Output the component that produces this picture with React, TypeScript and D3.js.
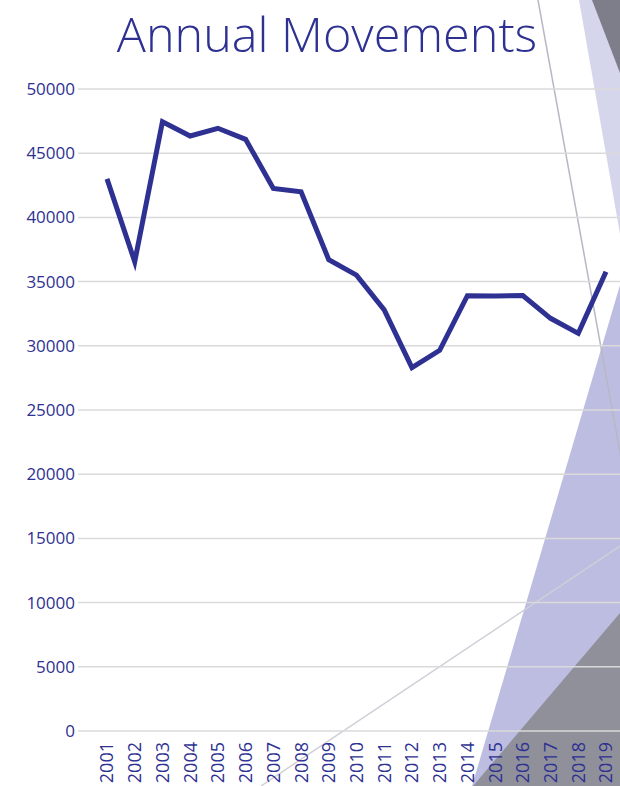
import React from 'react';
import * as d3 from 'd3';

const width = 620;
const height = 786;
const margin = { top: 89, bottom: 731, left: 107, right: 606 };

const years: string[] = [
    '2001', '2002', '2003', '2004', '2005', '2006', '2007', '2008', '2009', '2010',
    '2011', '2012', '2013', '2014', '2015', '2016', '2017', '2018', '2019',
];
const movements: number[] = [
    43000, 36550, 47450, 46340, 46940, 46080, 42260, 42000, 36700, 35500,
    32800, 28300, 29650, 33900, 33880, 33920, 32140, 30970, 35770,
];
const yTicks: number[] = [0, 5000, 10000, 15000, 20000, 25000, 30000, 35000, 40000, 45000, 50000];

const blue = '#2e3192';

// slide background decoration (theme shapes)
const decoShapes = [
    { points: [[579, 0], [620, 0], [620, 234]], fill: '#d5d6ec' },
    { points: [[592, 0], [620, 0], [620, 73]], fill: '#7d7e8a' },
    { points: [[620, 285], [620, 786], [472, 786]], fill: '#bcbde0' },
    { points: [[620, 613], [620, 786], [473, 786]], fill: '#8f909a' },
];
const decoLines = [
    { x1: 538, y1: 0, x2: 621, y2: 458, stroke: '#b8b8c4' },
    { x1: 261, y1: 786, x2: 620, y2: 546, stroke: '#cfcfd8' },
];

const App = () => {
    const x = d3.scalePoint<string>().domain(years).range([margin.left, margin.right]);
    const y = d3.scaleLinear().domain([0, 50000]).range([margin.bottom, margin.top]);

    const line = d3.line<number>()
        .x((_, i) => x(years[i]) as number)
        .y(d => y(d));

    return (
        <svg width={width} height={height}
            style={{ position: 'absolute', left: 0, top: 0, background: '#fff' }}>
            {decoShapes.map((s, i) => (
                <polygon key={i} points={s.points.map(p => p.join(',')).join(' ')} fill={s.fill} />
            ))}
            {decoLines.map((l, i) => (
                <line key={i} {...l} strokeWidth={1.5} />
            ))}
            <text x={327} y={52} textAnchor="middle" fill={blue}
                fontFamily="Open Sans" fontWeight={300} fontSize={48.5}>
                Annual Movements
            </text>
            {yTicks.map(t => (
                <g key={t}>
                    <line x1={78} x2={width} y1={y(t)} y2={y(t)} stroke="#dadada" strokeWidth={1.5} />
                    <text x={75} y={y(t)} dy="0.35em" textAnchor="end" fill={blue}
                        fontFamily="Open Sans" fontSize={17}>
                        {t}
                    </text>
                </g>
            ))}
            {years.map(yr => (
                <text key={yr} transform={`translate(${x(yr)},742) rotate(-90)`}
                    textAnchor="end" dy="0.36em" fill={blue}
                    fontFamily="Open Sans" fontSize={18}>
                    {yr}
                </text>
            ))}
            <path d={line(movements) || ''} fill="none" stroke={blue}
                strokeWidth={5} strokeLinejoin="miter" />
        </svg>
    );
};

export default App;
